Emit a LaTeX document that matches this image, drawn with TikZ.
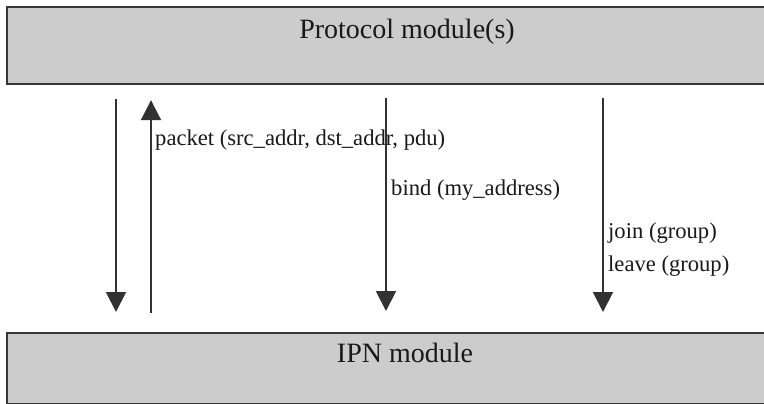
\documentclass[tikz,border=0pt]{standalone}
\usepackage{fontspec}
\setmainfont{Liberation Serif}
\usetikzlibrary{arrows.meta}
\definecolor{boxfill}{RGB}{204,204,204}
\definecolor{boxline}{RGB}{55,55,55}
\definecolor{arrowcol}{RGB}{50,50,50}
\tikzset{
  modbox/.style={draw=boxline, line width=2.2pt, fill=boxfill, rectangle,
    anchor=north west, inner sep=0pt},
  modtitle/.style={anchor=base, font=\fontsize{28}{32}\selectfont, text=black!90, inner sep=0pt},
  call/.style={draw=arrowcol, line width=2pt,
    -{Triangle[width=20pt,length=20pt]}},
  calllabel/.style={anchor=base west, font=\fontsize{22.6}{26}\selectfont, text=black!90, inner sep=0pt},
}
\begin{document}
\begin{tikzpicture}[x=1pt, y=-1pt]
  \useasboundingbox (0,0) rectangle (764,404);
  \clip (0,0) rectangle (764,404);

  % the two module layers
  \node[modbox, minimum width=806pt, minimum height=77pt] (proto) at (6,6) {};
  \node[modbox, minimum width=806pt, minimum height=71pt] (ipn) at (6,332) {};
  \node[modtitle] (protot) at (407,39) {Protocol module(s)};
  \node[modtitle] (ipnt) at (405,362) {IPN module};

  % columns of the interface primitives
  \coordinate (c1) at (116,0);
  \coordinate (c2) at (151,0);
  \coordinate (c3) at (386,0);
  \coordinate (c4) at (603,0);

  \draw[call, shorten <=14pt, shorten >=20pt] (proto.south -| c1) -- (ipn.north -| c1);
  \draw[call, shorten <=19pt, shorten >=15pt] (ipn.north -| c2) -- (proto.south -| c2);
  \draw[call, shorten <=13pt, shorten >=21pt] (proto.south -| c3) -- (ipn.north -| c3);
  \draw[call, shorten <=13pt, shorten >=20pt] (proto.south -| c4) -- (ipn.north -| c4);

  % primitive names
  \node[calllabel] (lpacket) at (155,146) {packet (src\_addr, dst\_addr, pdu)};
  \node[calllabel] (lbind) at (391,195) {bind (my\_address)};
  \node[calllabel] (ljoin) at (608,238) {join (group)};
  \node[calllabel] (lleave) at (608,271) {leave (group)};
\end{tikzpicture}
\end{document}
